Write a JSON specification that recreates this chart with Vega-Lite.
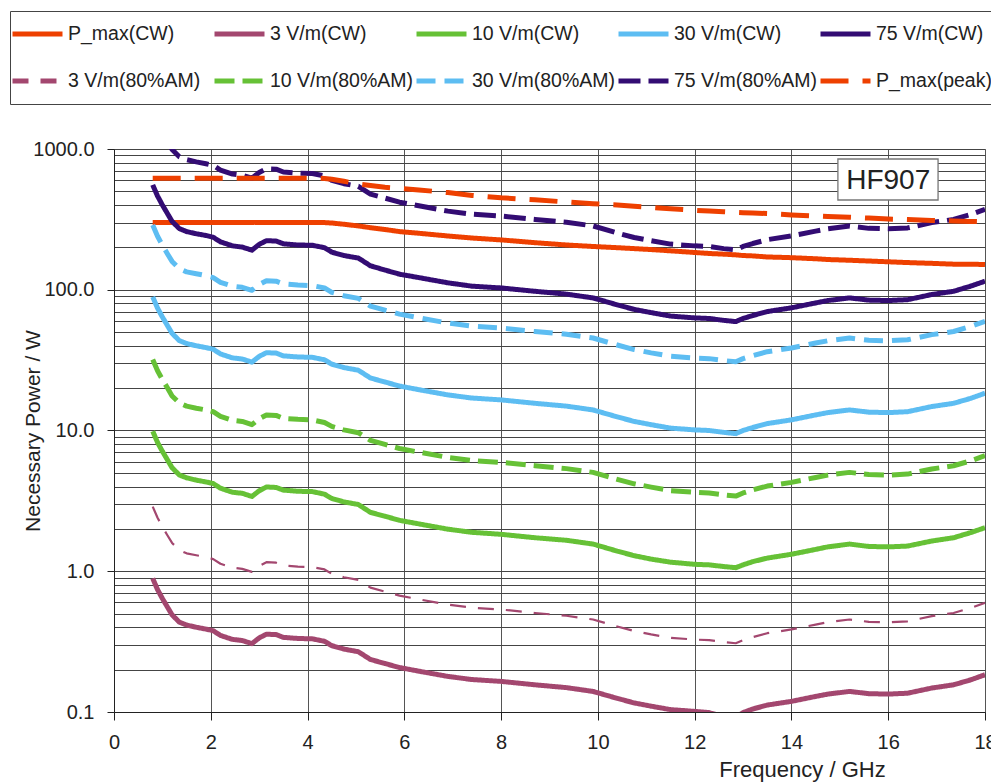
{
  "$schema": "https://vega.github.io/schema/vega-lite/v6.json",
  "width": 871,
  "height": 563,
  "autosize": {"type": "none"},
  "padding": {"left": 114, "top": 149, "right": 6, "bottom": 70},
  "background": "white",
  "config": {
    "font": "Liberation Sans",
    "view": {"stroke": "#999", "strokeWidth": 1},
    "legend": {"symbolStrokeWidth": 5},
    "axis": {
      "labelFont": "Liberation Sans",
      "titleFont": "Liberation Sans",
      "labelColor": "#222",
      "titleColor": "#222",
      "titleFontWeight": "normal",
      "domainColor": "#222",
      "tickColor": "#222",
      "gridOpacity": 1
    }
  },
  "layer": [
    {
      "data": {
        "values": [
          {"f":0.8,"P_max(CW)":300,"3 V/m(CW)":0.89,"10 V/m(CW)":9.89,"30 V/m(CW)":89,"75 V/m(CW)":556,"3 V/m(80%AM)":2.88,"10 V/m(80%AM)":32.0,"30 V/m(80%AM)":288,"75 V/m(80%AM)":1802,"P_max(peak)":620},
          {"f":0.9,"P_max(CW)":300,"3 V/m(CW)":0.74,"10 V/m(CW)":8.22,"30 V/m(CW)":74,"75 V/m(CW)":463,"3 V/m(80%AM)":2.40,"10 V/m(80%AM)":26.6,"30 V/m(80%AM)":240,"75 V/m(80%AM)":1499,"P_max(peak)":620},
          {"f":1.0,"P_max(CW)":300,"3 V/m(CW)":0.64,"10 V/m(CW)":7.11,"30 V/m(CW)":64,"75 V/m(CW)":400,"3 V/m(80%AM)":2.07,"10 V/m(80%AM)":23.0,"30 V/m(80%AM)":207,"75 V/m(80%AM)":1296,"P_max(peak)":620},
          {"f":1.1,"P_max(CW)":300,"3 V/m(CW)":0.56,"10 V/m(CW)":6.22,"30 V/m(CW)":56,"75 V/m(CW)":350,"3 V/m(80%AM)":1.81,"10 V/m(80%AM)":20.2,"30 V/m(80%AM)":181,"75 V/m(80%AM)":1134,"P_max(peak)":620},
          {"f":1.2,"P_max(CW)":300,"3 V/m(CW)":0.49,"10 V/m(CW)":5.44,"30 V/m(CW)":49,"75 V/m(CW)":306,"3 V/m(80%AM)":1.59,"10 V/m(80%AM)":17.6,"30 V/m(80%AM)":159,"75 V/m(80%AM)":992,"P_max(peak)":620},
          {"f":1.35,"P_max(CW)":300,"3 V/m(CW)":0.435,"10 V/m(CW)":4.83,"30 V/m(CW)":43.5,"75 V/m(CW)":272,"3 V/m(80%AM)":1.41,"10 V/m(80%AM)":15.7,"30 V/m(80%AM)":141,"75 V/m(80%AM)":881,"P_max(peak)":620},
          {"f":1.5,"P_max(CW)":300,"3 V/m(CW)":0.415,"10 V/m(CW)":4.61,"30 V/m(CW)":41.5,"75 V/m(CW)":259,"3 V/m(80%AM)":1.34,"10 V/m(80%AM)":14.9,"30 V/m(80%AM)":134,"75 V/m(80%AM)":840,"P_max(peak)":620},
          {"f":1.7,"P_max(CW)":300,"3 V/m(CW)":0.400,"10 V/m(CW)":4.44,"30 V/m(CW)":40.0,"75 V/m(CW)":250,"3 V/m(80%AM)":1.30,"10 V/m(80%AM)":14.4,"30 V/m(80%AM)":130,"75 V/m(80%AM)":810,"P_max(peak)":620},
          {"f":1.9,"P_max(CW)":300,"3 V/m(CW)":0.388,"10 V/m(CW)":4.31,"30 V/m(CW)":38.8,"75 V/m(CW)":243,"3 V/m(80%AM)":1.26,"10 V/m(80%AM)":14.0,"30 V/m(80%AM)":126,"75 V/m(80%AM)":786,"P_max(peak)":620},
          {"f":2.05,"P_max(CW)":300,"3 V/m(CW)":0.378,"10 V/m(CW)":4.20,"30 V/m(CW)":37.8,"75 V/m(CW)":236,"3 V/m(80%AM)":1.22,"10 V/m(80%AM)":13.6,"30 V/m(80%AM)":122,"75 V/m(80%AM)":765,"P_max(peak)":620},
          {"f":2.2,"P_max(CW)":300,"3 V/m(CW)":0.350,"10 V/m(CW)":3.89,"30 V/m(CW)":35.0,"75 V/m(CW)":219,"3 V/m(80%AM)":1.13,"10 V/m(80%AM)":12.6,"30 V/m(80%AM)":113,"75 V/m(80%AM)":709,"P_max(peak)":620},
          {"f":2.45,"P_max(CW)":300,"3 V/m(CW)":0.328,"10 V/m(CW)":3.64,"30 V/m(CW)":32.8,"75 V/m(CW)":205,"3 V/m(80%AM)":1.06,"10 V/m(80%AM)":11.8,"30 V/m(80%AM)":106,"75 V/m(80%AM)":664,"P_max(peak)":620},
          {"f":2.65,"P_max(CW)":300,"3 V/m(CW)":0.322,"10 V/m(CW)":3.58,"30 V/m(CW)":32.2,"75 V/m(CW)":201,"3 V/m(80%AM)":1.04,"10 V/m(80%AM)":11.6,"30 V/m(80%AM)":104,"75 V/m(80%AM)":652,"P_max(peak)":620},
          {"f":2.85,"P_max(CW)":300,"3 V/m(CW)":0.306,"10 V/m(CW)":3.40,"30 V/m(CW)":30.6,"75 V/m(CW)":191,"3 V/m(80%AM)":0.99,"10 V/m(80%AM)":11.0,"30 V/m(80%AM)":99.1,"75 V/m(80%AM)":620,"P_max(peak)":620},
          {"f":3.0,"P_max(CW)":300,"3 V/m(CW)":0.336,"10 V/m(CW)":3.73,"30 V/m(CW)":33.6,"75 V/m(CW)":210,"3 V/m(80%AM)":1.09,"10 V/m(80%AM)":12.1,"30 V/m(80%AM)":109,"75 V/m(80%AM)":680,"P_max(peak)":620},
          {"f":3.15,"P_max(CW)":300,"3 V/m(CW)":0.357,"10 V/m(CW)":3.97,"30 V/m(CW)":35.7,"75 V/m(CW)":223,"3 V/m(80%AM)":1.16,"10 V/m(80%AM)":12.9,"30 V/m(80%AM)":116,"75 V/m(80%AM)":723,"P_max(peak)":620},
          {"f":3.35,"P_max(CW)":300,"3 V/m(CW)":0.355,"10 V/m(CW)":3.94,"30 V/m(CW)":35.5,"75 V/m(CW)":222,"3 V/m(80%AM)":1.15,"10 V/m(80%AM)":12.8,"30 V/m(80%AM)":115,"75 V/m(80%AM)":719,"P_max(peak)":620},
          {"f":3.5,"P_max(CW)":300,"3 V/m(CW)":0.339,"10 V/m(CW)":3.77,"30 V/m(CW)":33.9,"75 V/m(CW)":212,"3 V/m(80%AM)":1.10,"10 V/m(80%AM)":12.2,"30 V/m(80%AM)":110,"75 V/m(80%AM)":686,"P_max(peak)":620},
          {"f":3.8,"P_max(CW)":300,"3 V/m(CW)":0.333,"10 V/m(CW)":3.70,"30 V/m(CW)":33.3,"75 V/m(CW)":208,"3 V/m(80%AM)":1.08,"10 V/m(80%AM)":12.0,"30 V/m(80%AM)":108,"75 V/m(80%AM)":674,"P_max(peak)":620},
          {"f":4.1,"P_max(CW)":300,"3 V/m(CW)":0.331,"10 V/m(CW)":3.68,"30 V/m(CW)":33.1,"75 V/m(CW)":207,"3 V/m(80%AM)":1.07,"10 V/m(80%AM)":11.9,"30 V/m(80%AM)":107,"75 V/m(80%AM)":670,"P_max(peak)":620},
          {"f":4.35,"P_max(CW)":300,"3 V/m(CW)":0.318,"10 V/m(CW)":3.53,"30 V/m(CW)":31.8,"75 V/m(CW)":199,"3 V/m(80%AM)":1.03,"10 V/m(80%AM)":11.4,"30 V/m(80%AM)":103,"75 V/m(80%AM)":644,"P_max(peak)":618},
          {"f":4.5,"P_max(CW)":298,"3 V/m(CW)":0.296,"10 V/m(CW)":3.29,"30 V/m(CW)":29.6,"75 V/m(CW)":185,"3 V/m(80%AM)":0.959,"10 V/m(80%AM)":10.7,"30 V/m(80%AM)":95.9,"75 V/m(80%AM)":599,"P_max(peak)":610},
          {"f":4.75,"P_max(CW)":292,"3 V/m(CW)":0.280,"10 V/m(CW)":3.11,"30 V/m(CW)":28.0,"75 V/m(CW)":175,"3 V/m(80%AM)":0.907,"10 V/m(80%AM)":10.1,"30 V/m(80%AM)":90.7,"75 V/m(80%AM)":567,"P_max(peak)":590},
          {"f":5.05,"P_max(CW)":284,"3 V/m(CW)":0.268,"10 V/m(CW)":2.98,"30 V/m(CW)":26.8,"75 V/m(CW)":168,"3 V/m(80%AM)":0.868,"10 V/m(80%AM)":9.65,"30 V/m(80%AM)":86.8,"75 V/m(80%AM)":543,"P_max(peak)":565},
          {"f":5.3,"P_max(CW)":276,"3 V/m(CW)":0.236,"10 V/m(CW)":2.62,"30 V/m(CW)":23.6,"75 V/m(CW)":148,"3 V/m(80%AM)":0.765,"10 V/m(80%AM)":8.50,"30 V/m(80%AM)":76.5,"75 V/m(80%AM)":478,"P_max(peak)":550},
          {"f":5.6,"P_max(CW)":268,"3 V/m(CW)":0.221,"10 V/m(CW)":2.46,"30 V/m(CW)":22.1,"75 V/m(CW)":138,"3 V/m(80%AM)":0.716,"10 V/m(80%AM)":7.96,"30 V/m(80%AM)":71.6,"75 V/m(80%AM)":448,"P_max(peak)":535},
          {"f":5.9,"P_max(CW)":259,"3 V/m(CW)":0.207,"10 V/m(CW)":2.30,"30 V/m(CW)":20.7,"75 V/m(CW)":129,"3 V/m(80%AM)":0.671,"10 V/m(80%AM)":7.45,"30 V/m(80%AM)":67.1,"75 V/m(80%AM)":419,"P_max(peak)":525},
          {"f":6.3,"P_max(CW)":252,"3 V/m(CW)":0.195,"10 V/m(CW)":2.17,"30 V/m(CW)":19.5,"75 V/m(CW)":122,"3 V/m(80%AM)":0.632,"10 V/m(80%AM)":7.02,"30 V/m(80%AM)":63.2,"75 V/m(80%AM)":395,"P_max(peak)":512},
          {"f":6.9,"P_max(CW)":241,"3 V/m(CW)":0.179,"10 V/m(CW)":1.99,"30 V/m(CW)":17.9,"75 V/m(CW)":112,"3 V/m(80%AM)":0.580,"10 V/m(80%AM)":6.44,"30 V/m(80%AM)":58.0,"75 V/m(80%AM)":362,"P_max(peak)":490},
          {"f":7.4,"P_max(CW)":233,"3 V/m(CW)":0.170,"10 V/m(CW)":1.89,"30 V/m(CW)":17.0,"75 V/m(CW)":106,"3 V/m(80%AM)":0.551,"10 V/m(80%AM)":6.12,"30 V/m(80%AM)":55.1,"75 V/m(80%AM)":344,"P_max(peak)":468},
          {"f":8.0,"P_max(CW)":226,"3 V/m(CW)":0.165,"10 V/m(CW)":1.83,"30 V/m(CW)":16.5,"75 V/m(CW)":103,"3 V/m(80%AM)":0.535,"10 V/m(80%AM)":5.94,"30 V/m(80%AM)":53.5,"75 V/m(80%AM)":334,"P_max(peak)":450},
          {"f":8.7,"P_max(CW)":216,"3 V/m(CW)":0.156,"10 V/m(CW)":1.73,"30 V/m(CW)":15.6,"75 V/m(CW)":97.5,"3 V/m(80%AM)":0.505,"10 V/m(80%AM)":5.62,"30 V/m(80%AM)":50.5,"75 V/m(80%AM)":316,"P_max(peak)":436},
          {"f":9.35,"P_max(CW)":208,"3 V/m(CW)":0.149,"10 V/m(CW)":1.66,"30 V/m(CW)":14.9,"75 V/m(CW)":93.1,"3 V/m(80%AM)":0.483,"10 V/m(80%AM)":5.36,"30 V/m(80%AM)":48.3,"75 V/m(80%AM)":302,"P_max(peak)":420},
          {"f":9.9,"P_max(CW)":203,"3 V/m(CW)":0.140,"10 V/m(CW)":1.56,"30 V/m(CW)":14.0,"75 V/m(CW)":87.5,"3 V/m(80%AM)":0.454,"10 V/m(80%AM)":5.04,"30 V/m(80%AM)":45.4,"75 V/m(80%AM)":284,"P_max(peak)":408},
          {"f":10.4,"P_max(CW)":199,"3 V/m(CW)":0.125,"10 V/m(CW)":1.39,"30 V/m(CW)":12.5,"75 V/m(CW)":78.1,"3 V/m(80%AM)":0.405,"10 V/m(80%AM)":4.50,"30 V/m(80%AM)":40.5,"75 V/m(80%AM)":253,"P_max(peak)":400},
          {"f":10.75,"P_max(CW)":196,"3 V/m(CW)":0.116,"10 V/m(CW)":1.29,"30 V/m(CW)":11.6,"75 V/m(CW)":72.5,"3 V/m(80%AM)":0.376,"10 V/m(80%AM)":4.18,"30 V/m(80%AM)":37.6,"75 V/m(80%AM)":235,"P_max(peak)":392},
          {"f":11.1,"P_max(CW)":193,"3 V/m(CW)":0.110,"10 V/m(CW)":1.22,"30 V/m(CW)":11.0,"75 V/m(CW)":68.8,"3 V/m(80%AM)":0.356,"10 V/m(80%AM)":3.96,"30 V/m(80%AM)":35.6,"75 V/m(80%AM)":223,"P_max(peak)":385},
          {"f":11.5,"P_max(CW)":189,"3 V/m(CW)":0.104,"10 V/m(CW)":1.16,"30 V/m(CW)":10.4,"75 V/m(CW)":65.0,"3 V/m(80%AM)":0.337,"10 V/m(80%AM)":3.74,"30 V/m(80%AM)":33.7,"75 V/m(80%AM)":211,"P_max(peak)":376},
          {"f":12.0,"P_max(CW)":184,"3 V/m(CW)":0.101,"10 V/m(CW)":1.12,"30 V/m(CW)":10.1,"75 V/m(CW)":63.1,"3 V/m(80%AM)":0.327,"10 V/m(80%AM)":3.64,"30 V/m(80%AM)":32.7,"75 V/m(80%AM)":205,"P_max(peak)":367},
          {"f":12.3,"P_max(CW)":181,"3 V/m(CW)":0.099,"10 V/m(CW)":1.11,"30 V/m(CW)":10.0,"75 V/m(CW)":62.5,"3 V/m(80%AM)":0.324,"10 V/m(80%AM)":3.60,"30 V/m(80%AM)":32.4,"75 V/m(80%AM)":203,"P_max(peak)":362},
          {"f":12.6,"P_max(CW)":179,"3 V/m(CW)":0.093,"10 V/m(CW)":1.08,"30 V/m(CW)":9.7,"75 V/m(CW)":60.6,"3 V/m(80%AM)":0.314,"10 V/m(80%AM)":3.49,"30 V/m(80%AM)":31.4,"75 V/m(80%AM)":196,"P_max(peak)":358},
          {"f":12.85,"P_max(CW)":177,"3 V/m(CW)":0.092,"10 V/m(CW)":1.06,"30 V/m(CW)":9.5,"75 V/m(CW)":59.4,"3 V/m(80%AM)":0.308,"10 V/m(80%AM)":3.42,"30 V/m(80%AM)":30.8,"75 V/m(80%AM)":192,"P_max(peak)":355},
          {"f":13.0,"P_max(CW)":175,"3 V/m(CW)":0.099,"10 V/m(CW)":1.11,"30 V/m(CW)":10.0,"75 V/m(CW)":62.5,"3 V/m(80%AM)":0.324,"10 V/m(80%AM)":3.60,"30 V/m(80%AM)":32.4,"75 V/m(80%AM)":203,"P_max(peak)":353},
          {"f":13.2,"P_max(CW)":174,"3 V/m(CW)":0.105,"10 V/m(CW)":1.17,"30 V/m(CW)":10.5,"75 V/m(CW)":65.6,"3 V/m(80%AM)":0.340,"10 V/m(80%AM)":3.78,"30 V/m(80%AM)":34.0,"75 V/m(80%AM)":213,"P_max(peak)":351},
          {"f":13.5,"P_max(CW)":171,"3 V/m(CW)":0.112,"10 V/m(CW)":1.24,"30 V/m(CW)":11.2,"75 V/m(CW)":70.0,"3 V/m(80%AM)":0.363,"10 V/m(80%AM)":4.03,"30 V/m(80%AM)":36.3,"75 V/m(80%AM)":227,"P_max(peak)":348},
          {"f":14.0,"P_max(CW)":169,"3 V/m(CW)":0.119,"10 V/m(CW)":1.32,"30 V/m(CW)":11.9,"75 V/m(CW)":74.4,"3 V/m(80%AM)":0.386,"10 V/m(80%AM)":4.28,"30 V/m(80%AM)":38.6,"75 V/m(80%AM)":241,"P_max(peak)":340},
          {"f":14.5,"P_max(CW)":166,"3 V/m(CW)":0.129,"10 V/m(CW)":1.43,"30 V/m(CW)":12.9,"75 V/m(CW)":80.6,"3 V/m(80%AM)":0.418,"10 V/m(80%AM)":4.64,"30 V/m(80%AM)":41.8,"75 V/m(80%AM)":261,"P_max(peak)":334},
          {"f":14.75,"P_max(CW)":164,"3 V/m(CW)":0.134,"10 V/m(CW)":1.49,"30 V/m(CW)":13.4,"75 V/m(CW)":83.8,"3 V/m(80%AM)":0.434,"10 V/m(80%AM)":4.82,"30 V/m(80%AM)":43.4,"75 V/m(80%AM)":271,"P_max(peak)":331},
          {"f":15.2,"P_max(CW)":162,"3 V/m(CW)":0.140,"10 V/m(CW)":1.56,"30 V/m(CW)":14.0,"75 V/m(CW)":87.5,"3 V/m(80%AM)":0.454,"10 V/m(80%AM)":5.04,"30 V/m(80%AM)":45.4,"75 V/m(80%AM)":284,"P_max(peak)":328},
          {"f":15.6,"P_max(CW)":160,"3 V/m(CW)":0.135,"10 V/m(CW)":1.50,"30 V/m(CW)":13.5,"75 V/m(CW)":84.4,"3 V/m(80%AM)":0.437,"10 V/m(80%AM)":4.86,"30 V/m(80%AM)":43.7,"75 V/m(80%AM)":273,"P_max(peak)":323},
          {"f":16.0,"P_max(CW)":158,"3 V/m(CW)":0.134,"10 V/m(CW)":1.49,"30 V/m(CW)":13.4,"75 V/m(CW)":83.8,"3 V/m(80%AM)":0.434,"10 V/m(80%AM)":4.82,"30 V/m(80%AM)":43.4,"75 V/m(80%AM)":271,"P_max(peak)":318},
          {"f":16.4,"P_max(CW)":156,"3 V/m(CW)":0.136,"10 V/m(CW)":1.51,"30 V/m(CW)":13.6,"75 V/m(CW)":85.0,"3 V/m(80%AM)":0.441,"10 V/m(80%AM)":4.90,"30 V/m(80%AM)":44.1,"75 V/m(80%AM)":275,"P_max(peak)":315},
          {"f":16.9,"P_max(CW)":154,"3 V/m(CW)":0.148,"10 V/m(CW)":1.64,"30 V/m(CW)":14.8,"75 V/m(CW)":92.5,"3 V/m(80%AM)":0.480,"10 V/m(80%AM)":5.33,"30 V/m(80%AM)":48.0,"75 V/m(80%AM)":300,"P_max(peak)":311},
          {"f":17.35,"P_max(CW)":152,"3 V/m(CW)":0.156,"10 V/m(CW)":1.73,"30 V/m(CW)":15.6,"75 V/m(CW)":97.5,"3 V/m(80%AM)":0.505,"10 V/m(80%AM)":5.62,"30 V/m(80%AM)":50.5,"75 V/m(80%AM)":316,"P_max(peak)":308},
          {"f":17.7,"P_max(CW)":152,"3 V/m(CW)":0.169,"10 V/m(CW)":1.88,"30 V/m(CW)":16.9,"75 V/m(CW)":106,"3 V/m(80%AM)":0.548,"10 V/m(80%AM)":6.08,"30 V/m(80%AM)":54.8,"75 V/m(80%AM)":342,"P_max(peak)":306},
          {"f":18.0,"P_max(CW)":151,"3 V/m(CW)":0.184,"10 V/m(CW)":2.04,"30 V/m(CW)":18.4,"75 V/m(CW)":115,"3 V/m(80%AM)":0.596,"10 V/m(80%AM)":6.62,"30 V/m(80%AM)":59.6,"75 V/m(80%AM)":373,"P_max(peak)":304}
        ]
      },
      "transform": [
        {"fold": ["P_max(CW)", "3 V/m(CW)", "10 V/m(CW)", "30 V/m(CW)", "75 V/m(CW)", "3 V/m(80%AM)", "10 V/m(80%AM)", "30 V/m(80%AM)", "75 V/m(80%AM)", "P_max(peak)"], "as": ["series", "power"]}
      ],
      "encoding": {
        "x": {
          "field": "f", "type": "quantitative",
          "scale": {"domain": [0, 18], "nice": false, "zero": false},
          "axis": {
            "values": [0, 2, 4, 6, 8, 10, 12, 14, 16, 18],
            "title": "Frequency / GHz",
            "labelFontSize": 20,
            "labelFlush": false,
            "labelPadding": 12,
            "tickSize": 8,
            "grid": true,
            "gridColor": "#555",
            "titleFontSize": 22,
            "titleX": 688,
            "titleY": 64,
            "titleAlign": "center",
            "titleBaseline": "alphabetic"
          }
        },
        "y": {
          "field": "power", "type": "quantitative",
          "scale": {"type": "log", "domain": [0.1, 1000], "nice": false},
          "axis": {
            "values": [0.1,0.2,0.3,0.4,0.5,0.6,0.7,0.8,0.9,1,2,3,4,5,6,7,8,9,10,20,30,40,50,60,70,80,90,100,200,300,400,500,600,700,800,900,1000],
            "title": "Necessary Power / W",
            "labelExpr": "(datum.value == 0.1 || datum.value == 1 || datum.value == 10 || datum.value == 100 || datum.value == 1000) ? format(datum.value, '.1f') : ''",
            "labelOverlap": false,
            "labelFlush": false,
            "labelFontSize": 20,
            "labelPadding": 13,
            "tickSize": {"condition": {"test": "datum.value == 0.1 || datum.value == 1 || datum.value == 10 || datum.value == 100 || datum.value == 1000", "value": 7}, "value": 0},
            "grid": true,
            "gridColor": "#444",
            "titleFontSize": 21,
            "titleX": -81,
            "titleAngle": -90,
            "titleAlign": "center",
            "titleBaseline": "middle"
          }
        }
      },
      "layer": [
        {
          "transform": [{"filter": "datum.series !== '3 V/m(80%AM)'"}],
          "mark": {"type": "line", "clip": true, "strokeCap": "butt", "strokeJoin": "round", "strokeWidth": 5},
          "encoding": {
            "color": {
              "field": "series", "type": "nominal",
              "scale": {
                "domain": ["P_max(CW)", "3 V/m(CW)", "10 V/m(CW)", "30 V/m(CW)", "75 V/m(CW)", "3 V/m(80%AM)", "10 V/m(80%AM)", "30 V/m(80%AM)", "75 V/m(80%AM)", "P_max(peak)"],
                "range": ["#EE4000", "#A3476F", "#66C136", "#5DBDF2", "#330C73", "#A3476F", "#66C136", "#5DBDF2", "#330C73", "#EE4000"]
              },
              "legend": {
                "title": null, "orient": "none", "legendX": -104, "legendY": -138,
                "direction": "horizontal", "columns": 5, "symbolType": "stroke",
                "symbolSize": 2500, "symbolStrokeWidth": 5, "clipHeight": 46,
                "labelFontSize": 19.5, "labelFont": "Liberation Sans", "labelColor": "#222",
                "labelOffset": 3, "padding": 0, "rowPadding": 1, "columnPadding": 0,
                "gridAlign": "all", "strokeColor": "#444", "fillColor": "white", "labelLimit": 220
              }
            },
            "strokeDash": {
              "field": "series", "type": "nominal",
              "scale": {
                "domain": ["P_max(CW)", "3 V/m(CW)", "10 V/m(CW)", "30 V/m(CW)", "75 V/m(CW)", "3 V/m(80%AM)", "10 V/m(80%AM)", "30 V/m(80%AM)", "75 V/m(80%AM)", "P_max(peak)"],
                "range": [[1, 0], [1, 0], [1, 0], [1, 0], [1, 0], [16, 12], [20, 8], [19, 9], [22, 8], [28, 14]]
              },
              "legend": {
                "title": null, "orient": "none", "legendX": -104, "legendY": -138,
                "direction": "horizontal", "columns": 5, "symbolType": "stroke",
                "symbolSize": 2500, "symbolStrokeWidth": 5, "clipHeight": 46,
                "labelFontSize": 19.5, "labelFont": "Liberation Sans", "labelColor": "#222",
                "labelOffset": 3, "padding": 0, "rowPadding": 1, "columnPadding": 0,
                "gridAlign": "all", "strokeColor": "#444", "fillColor": "white", "labelLimit": 220
              }
            }
          }
        },
        {
          "transform": [{"filter": "datum.series === '3 V/m(80%AM)'"}],
          "mark": {"type": "line", "clip": true, "strokeCap": "butt", "strokeJoin": "round", "strokeWidth": 2.2},
          "encoding": {
            "color": {"field": "series", "type": "nominal", "legend": null},
            "strokeDash": {"field": "series", "type": "nominal", "legend": null}
          }
        }
      ]
    },
    {
      "data": {"values": [{}]},
      "mark": {"type": "rect", "fill": "white", "stroke": "#777", "strokeWidth": 1.3},
      "encoding": {
        "x": {"datum": 14.96},
        "x2": {"datum": 17.03},
        "y": {"datum": 849},
        "y2": {"datum": 434}
      }
    },
    {
      "data": {"values": [{}]},
      "mark": {"type": "text", "text": "HF907", "fontSize": 28, "font": "Liberation Sans", "color": "#222", "align": "center", "baseline": "middle"},
      "encoding": {
        "x": {"datum": 16.0},
        "y": {"datum": 593}
      }
    }
  ]
}
